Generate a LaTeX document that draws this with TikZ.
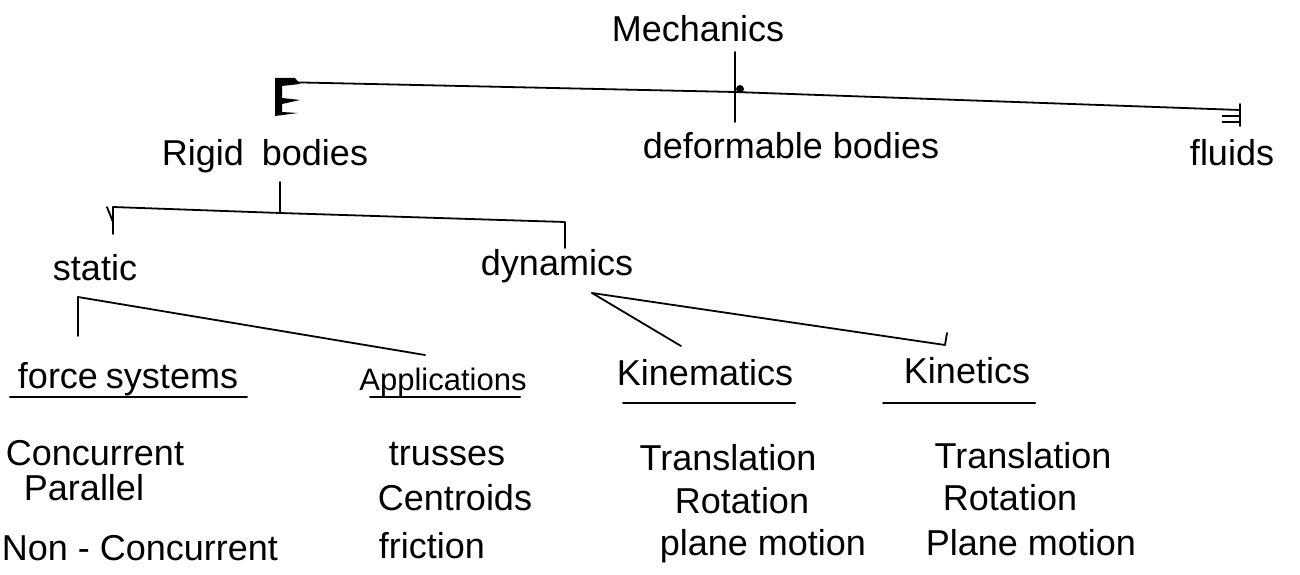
\documentclass[tikz,border=0pt]{standalone}
\usepackage{fontspec}
\setmainfont{Liberation Sans}
\begin{document}
\begin{tikzpicture}[x=1pt,y=-1pt,
  txt/.style={font=\fontsize{36}{42}\selectfont, inner sep=0pt, anchor=base},
  ln/.style={line width=1.8pt, line cap=round, line join=round},
  uline/.style={line width=2pt, line cap=round}]
\useasboundingbox[fill=white] (0,0) rectangle (1300,575);

% texts
\node[txt] (mech) at (698,42) {Mechanics};
\node[txt] (rigid) at (265,165) {Rigid\hspace{18pt}bodies};
\node[txt] (deform) at (791,158) {deformable\hspace{10pt}bodies};
\node[txt] (fluids) at (1232,165) {fluids};
\node[txt] (static) at (95,280) {static};
\node[txt] (dyn) at (557,275) {dynamics};
\node[txt] (force) at (128,388) {force\hspace{8pt}systems};
\node[txt, font=\fontsize{31}{36}\selectfont] (appl) at (443,390) {Applications};
\node[txt] (kinem) at (705,385) {Kinematics};
\node[txt] (kinet) at (967,383) {Kinetics};

\node[txt] (conc) at (95,465) {Concurrent};
\node[txt] (para) at (84,500) {Parallel};
\node[txt] (nonc) at (140,560) {Non - Concurrent};
\node[txt] (trus) at (447,465) {trusses};
\node[txt] (cent) at (455,510) {Centroids};
\node[txt] (fric) at (432,558) {friction};
\node[txt] (trA) at (728,470) {Translation};
\node[txt] (rotA) at (742,513) {Rotation};
\node[txt] (plA) at (763,555) {plane motion};
\node[txt] (trB) at (1023,468) {Translation};
\node[txt] (rotB) at (1010,510) {Rotation};
\node[txt] (plB) at (1031,555) {Plane motion};

% underlines
\draw[uline] (10,397) -- (247,397);
\draw[uline] (370,397) -- (520,397);
\draw[uline] (623,403) -- (795,403);
\draw[uline] (883,403) -- (1035,403);

% Mechanics level
\coordinate (m1) at (735,52);
\coordinate (m2) at (735,122);
\coordinate (mj) at (735,92);
\coordinate (mL) at (280,82);
\coordinate (mR) at (1240,110);
\draw[ln] (m1) -- (m2);
\draw[ln] (mL) -- (mj) -- (mR);
\fill (275,78) -- (295,78) -- (300,84) -- (282,86) -- (282,98) -- (300,100) -- (282,104) -- (282,112) -- (298,113) -- (275,116) -- cycle;
\fill (740,89) circle (4);
\draw[ln] (1240,104) -- (1240,126);
\draw[line width=1.2pt] (1222,116) -- (1240,116) (1222,122) -- (1240,122);

% Rigid bodies level
\coordinate (r1) at (280,182);
\coordinate (rj) at (280,213);
\coordinate (rL) at (113,207);
\coordinate (rLd) at (113,234);
\coordinate (rR) at (565,222);
\coordinate (rRd) at (565,248);
\draw[ln] (r1) -- (rj);
\draw[ln] (rLd) -- (rL) -- (rj) -- (rR) -- (rRd);
\draw[ln] (107,207) -- (113,222);

% static level
\coordinate (s1) at (78,297);
\coordinate (s2) at (78,336);
\coordinate (s3) at (425,355);
\draw[ln] (s2) -- (s1) -- (s3);

% dynamics level
\coordinate (d1) at (592,293);
\coordinate (d2) at (681,346);
\coordinate (d3) at (945,345);
\draw[ln] (d1) -- (d2);
\draw[ln] (d1) -- (d3) -- (947,333);
\end{tikzpicture}
\end{document}
